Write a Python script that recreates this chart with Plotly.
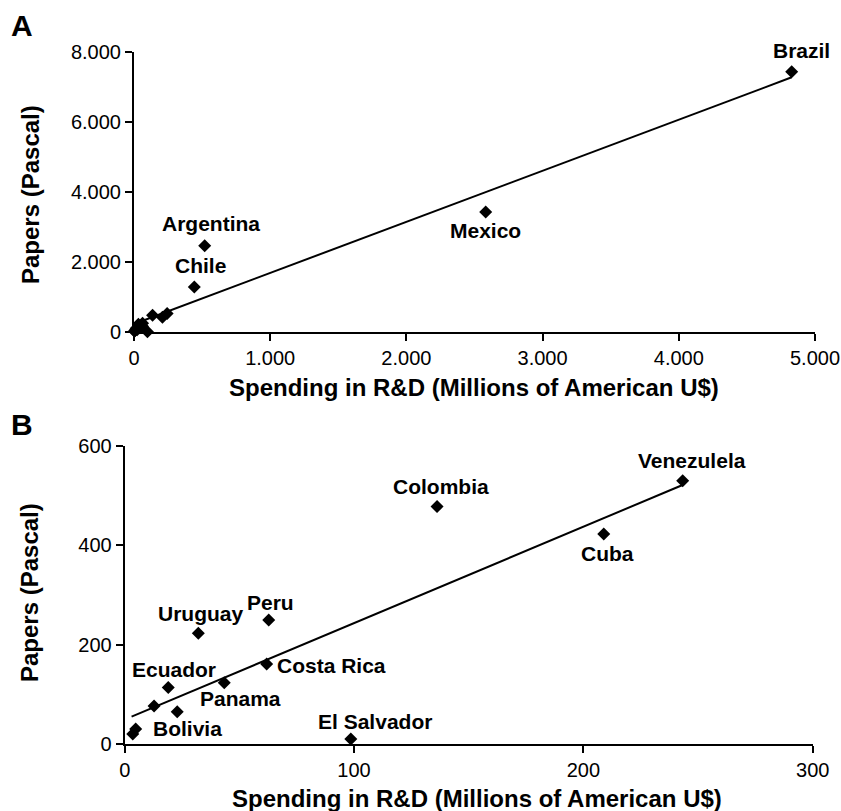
import plotly.graph_objects as go

# ---------------- data ----------------
countries = ["Brazil", "Mexico", "Argentina", "Chile", "Venezulela", "Colombia",
             "Cuba", "Peru", "Uruguay", "Costa Rica", "Panama", "Ecuador",
             "Bolivia", "El Salvador", "", "", ""]
spending = [4829, 2582, 519, 443, 243.3, 136.2, 208.9, 62.8, 32.1, 61.9, 43.4,
            19.0, 22.9, 98.6, 12.8, 3.5, 4.8]
papers = [7437, 3429, 2466, 1286, 530, 478, 423, 249.6, 222.8, 161, 123.5,
          114, 65, 10, 76.5, 20, 30]

labels_a = ["Brazil", "Mexico", "Argentina", "Chile"]
labels_b = ["Venezulela", "Colombia", "Cuba", "Peru", "Uruguay", "Costa Rica",
            "Panama", "Ecuador", "Bolivia", "El Salvador"]

trend_a_x = [20, 4829]
trend_a_y = [257, 7277]
trend_b_x = [3.0, 243]
trend_b_y = [55, 521]

a_xticks = [0, 1000, 2000, 3000, 4000, 5000]
a_xticktext = ["0", "1.000", "2.000", "3.000", "4.000", "5.000"]
a_yticks = [0, 2000, 4000, 6000, 8000]
a_yticktext = ["0", "2.000", "4.000", "6.000", "8.000"]
b_xticks = [0, 100, 200, 300]
b_xticktext = ["0", "100", "200", "300"]
b_yticks = [0, 200, 400, 600]
b_yticktext = ["0", "200", "400", "600"]

x_title = "Spending in R&D (Millions of American U$)"
y_title = "Papers (Pascal)"

# ---------------- styling ----------------
W, H = 841, 811
FONT = "Liberation Sans, Arial, Helvetica, sans-serif"
# label offsets in pixels (dx, dy) relative to the marker, dy positive = up
offsets = {
    "Brazil": (10, 21, "center"), "Mexico": (0, -19, "center"),
    "Argentina": (6, 22, "center"), "Chile": (6, 21, "center"),
    "Venezulela": (9, 20, "center"), "Colombia": (4, 20, "center"),
    "Cuba": (4, -20, "center"), "Peru": (2, 18, "center"),
    "Uruguay": (3, 20, "center"), "Costa Rica": (8, -1, "left"),
    "Panama": (16, -16, "center"), "Ecuador": (6, 18, "center"),
    "Bolivia": (10, -17, "center"), "El Salvador": (24, 18, "center"),
}


def px(x):
    return x / W


def py(y):
    return 1 - y / H


fig = go.Figure()

marker = dict(symbol="diamond", size=10, color="black", line=dict(width=0))

# Panel A
fig.add_trace(go.Scatter(x=spending, y=papers, mode="markers", marker=marker,
                         xaxis="x", yaxis="y", cliponaxis=False, showlegend=False))
fig.add_trace(go.Scatter(x=trend_a_x, y=trend_a_y, mode="lines",
                         line=dict(color="black", width=2),
                         xaxis="x", yaxis="y", cliponaxis=False, showlegend=False))

# Panel B (only the smaller economies)
bx = [s for s in spending if s < 300]
by = [p for s, p in zip(spending, papers) if s < 300]
fig.add_trace(go.Scatter(x=bx, y=by, mode="markers", marker=marker,
                         xaxis="x2", yaxis="y2", cliponaxis=False, showlegend=False))
fig.add_trace(go.Scatter(x=trend_b_x, y=trend_b_y, mode="lines",
                         line=dict(color="black", width=2),
                         xaxis="x2", yaxis="y2", cliponaxis=False, showlegend=False))

annotations = []
for names, xr, yr in ((labels_a, "x", "y"), (labels_b, "x2", "y2")):
    for n in names:
        i = countries.index(n)
        dx, dy, anc = offsets[n]
        annotations.append(dict(x=spending[i], y=papers[i], xref=xr, yref=yr,
                                text=n, showarrow=False, xanchor=anc,
                                yanchor="middle", xshift=dx, yshift=dy,
                                font=dict(family=FONT, size=21, color="black",
                                          weight="bold")))

title_font = dict(family=FONT, size=24, color="black", weight="bold")
for (tx, ty) in ((474, 387), (477, 798)):
    annotations.append(dict(x=px(tx), y=py(ty), xref="paper", yref="paper",
                            text=x_title, showarrow=False, xanchor="center",
                            yanchor="middle", font=title_font))
for (tx, ty) in ((30, 195), (29, 593)):
    annotations.append(dict(x=px(tx), y=py(ty), xref="paper", yref="paper",
                            text=y_title, showarrow=False, xanchor="center",
                            yanchor="middle", textangle=-90, font=title_font))
for (t, tx, ty) in (("A", 22, 26), ("B", 22, 425)):
    annotations.append(dict(x=px(tx), y=py(ty), xref="paper", yref="paper",
                            text=t, showarrow=False, xanchor="center",
                            yanchor="middle",
                            font=dict(family=FONT, size=30, color="black",
                                      weight="bold")))

axis_style = dict(showline=True, linewidth=2, linecolor="black", ticks="outside",
                  ticklen=7, tickwidth=2, tickcolor="black", showgrid=False,
                  zeroline=False, automargin=False, fixedrange=True,
                  ticklabeloverflow="allow",
                  tickfont=dict(family=FONT, size=20, color="black"))

fig.update_layout(
    width=W, height=H, margin=dict(l=0, r=0, t=0, b=0),
    paper_bgcolor="white", plot_bgcolor="white", showlegend=False,
    xaxis=dict(domain=[px(134), px(815)], range=[0, 5000], anchor="y",
               tickvals=a_xticks, ticktext=a_xticktext, **axis_style),
    yaxis=dict(domain=[py(332), py(52)], range=[0, 8000], anchor="x",
               tickvals=a_yticks, ticktext=a_yticktext, **axis_style),
    xaxis2=dict(domain=[px(124.7), px(812.7)], range=[0, 300], anchor="y2",
                tickvals=b_xticks, ticktext=b_xticktext, **axis_style),
    yaxis2=dict(domain=[py(744), py(446)], range=[0, 600], anchor="x2",
                tickvals=b_yticks, ticktext=b_yticktext, **axis_style),
    annotations=annotations,
)

# place the figure flush with the page corner and keep the page from scrolling
fig.write_html(
    "out.html",
    config={"displayModeBar": False},
    post_script="document.body.style.margin='0';"
                "document.body.style.padding='0';"
                "document.documentElement.style.overflow='hidden';"
                "document.body.style.overflow='hidden';",
)
